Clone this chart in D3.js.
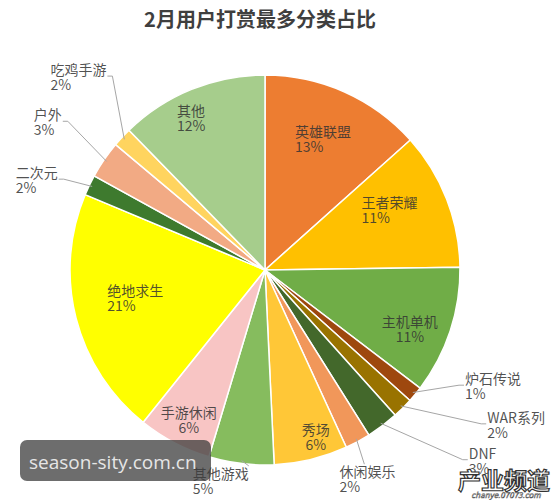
<!DOCTYPE html>
<html>
<head>
<meta charset="utf-8">
<script src="https://cdn.jsdelivr.net/npm/d3@7"></script>
<style>
  body { margin: 0; background: #fff; }
  text { font-family: "Microsoft YaHei", "Noto Sans CJK SC", sans-serif; }
</style>
</head>
<body>
<div id="chart"></div>
<script>
// categories clockwise from 12 o'clock
var categories = ["英雄联盟", "王者荣耀", "主机单机", "炉石传说", "WAR系列", "DNF", "休闲娱乐",
                  "秀场", "其他游戏", "手游休闲", "绝地求生", "二次元", "户外", "吃鸡手游", "其他"];
// share in %
var shares = [13.4, 11.4, 10.6, 1.3, 1.7, 2.7, 2.1, 6.1, 5.4, 6.1, 20.6, 1.7, 3.1, 1.6, 12.3];
var colors = ["#ED7D31", "#FFC000", "#70AD47", "#9E480E", "#997300", "#43682B", "#F1975A",
              "#FFC737", "#86BC5E", "#F8C5C4", "#FFFF00", "#3E7A2E", "#F2AA84", "#FFD45F", "#A6CD8C"];

// label placement: [radius as fraction of pie radius, angle in degrees, alignment]
var labelPlace = {
    "英雄联盟": [0.74, 23.7, "left"],
    "王者荣耀": [0.71, 64, "left"],
    "主机单机": [0.80, 111.8, "center"],
    "炉石传说": [1.31, 116.8, "left"],
    "WAR系列": [1.51, 121.5, "left"],
    "DNF": [1.48, 131.1, "left"],
    "休闲娱乐": [1.19, 153.8, "left"],
    "秀场": [0.89, 163, "center"],
    "其他游戏": [1.10, 191.9, "left"],
    "手游休闲": [0.86, 207, "center"],
    "绝地求生": [0.68, 258.3, "left"],
    "二次元": [1.26, 291.7, "left"],
    "户外": [1.35, 304.4, "left"],
    "吃鸡手游": [1.38, 316.1, "left"],
    "其他": [0.87, 334.2, "left"]
};

var width = 554, height = 500;
var cx = 265, cy = 270, radius = 195;

var svg = d3.select("#chart").append("svg")
    .attr("width", width)
    .attr("height", height);

// title
svg.append("text")
    .attr("x", 260)
    .attr("y", 27)
    .attr("text-anchor", "middle")
    .style("font-size", "20px")
    .style("font-weight", "bold")
    .style("fill", "#3f3f3f")
    .text("2月用户打赏最多分类占比");

var data = categories.map(function(c, i) {
    return { name: c, value: shares[i], color: colors[i] };
});

var pie = d3.pie().sort(null).value(function(d) { return d.value; });
var arc = d3.arc().innerRadius(0).outerRadius(radius);
var arcs = pie(data);

var g = svg.append("g").attr("transform", "translate(" + cx + "," + cy + ")");

g.selectAll("path.slice")
    .data(arcs)
    .enter()
    .append("path")
    .attr("class", "slice")
    .attr("d", arc)
    .attr("fill", function(d) { return d.data.color; })
    .attr("stroke", "#fff")
    .attr("stroke-width", 1.5);

function polar(r, deg) {
    var a = deg * Math.PI / 180;
    return [r * Math.sin(a), -r * Math.cos(a)];
}

var leaders = g.append("g");
var labels = g.append("g");

arcs.forEach(function(d) {
    var p = labelPlace[d.data.name];
    var pos = polar(p[0] * radius, p[1]);
    var lg = labels.append("g").attr("transform", "translate(" + pos[0] + "," + pos[1] + ")");
    var pct = Math.round(d.data.value) + "%";
    var t1 = lg.append("text").attr("y", -1).text(d.data.name);
    var t2 = lg.append("text").attr("y", 14).text(pct);
    lg.selectAll("text")
        .style("font-size", "14px")
        .style("fill", "#333")
        .style("fill-opacity", 0.85);
    var w = Math.max(t1.node().getComputedTextLength(), t2.node().getComputedTextLength());
    if (p[2] === "center") {
        lg.selectAll("text").attr("text-anchor", "middle");
    } else {
        lg.selectAll("text").attr("x", -w / 2);
    }

    // leader line for labels outside the pie
    if (p[0] > 1) {
        var mid = (d.startAngle + d.endAngle) / 2 * 180 / Math.PI;
        var s = polar(radius - 3, mid);
        var x0 = pos[0] - w / 2, x1 = pos[0] + w / 2, y0 = pos[1] - 13;
        var pts;
        if (s[0] > x1 + 3) {
            pts = [s, [x1 + 6, pos[1]], [x1 + 1, pos[1]]];
        } else if (s[0] < x0 - 3) {
            pts = [s, [x0 - 6, pos[1]], [x0 - 1, pos[1]]];
        } else {
            pts = [s, [Math.min(Math.max(s[0] + 8, x0), x1), y0 - 1]];
        }
        leaders.append("path")
            .attr("d", d3.line()(pts))
            .attr("fill", "none")
            .attr("stroke", "#a6a6a6")
            .attr("stroke-width", 1);
    }
});

// site watermark
svg.append("rect")
    .attr("x", 20).attr("y", 440)
    .attr("width", 191).attr("height", 41)
    .attr("rx", 7)
    .attr("fill", "#3c3c3c")
    .attr("fill-opacity", 0.75);
svg.append("text")
    .attr("x", 29).attr("y", 469)
    .style("font-family", "'Open Sans', sans-serif")
    .style("font-size", "19px")
    .style("fill", "#e6e6e6")
    .text("season-sity.com.cn");

// bottom-right logo
svg.append("text")
    .attr("x", 504).attr("y", 489)
    .attr("text-anchor", "middle")
    .style("font-size", "23px")
    .style("font-weight", "bold")
    .style("fill", "#fff")
    .style("stroke", "#333")
    .style("stroke-width", 1.2)
    .text("产业频道");
svg.append("text")
    .attr("x", 506).attr("y", 498)
    .attr("text-anchor", "middle")
    .style("font-size", "8px")
    .style("font-style", "italic")
    .style("fill", "#fff")
    .style("stroke", "#555")
    .style("stroke-width", 0.5)
    .text("chanye.07073.com");
</script>
</body>
</html>
